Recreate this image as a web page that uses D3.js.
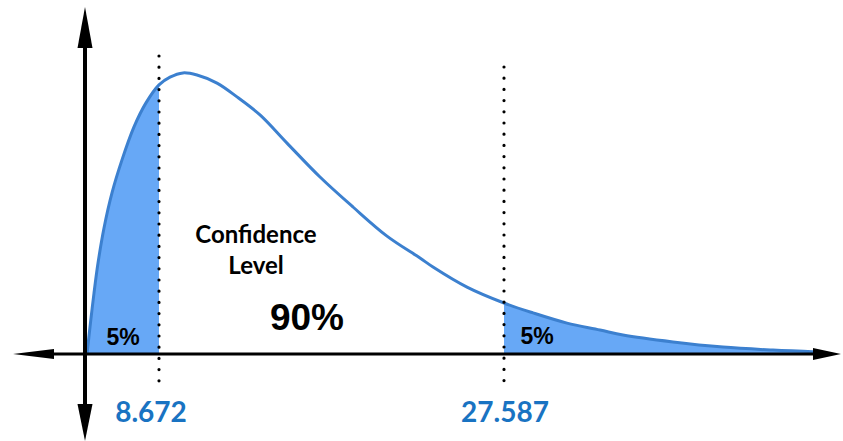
<!DOCTYPE html>
<html>
<head>
<meta charset="utf-8">
<script src="https://cdn.jsdelivr.net/npm/d3@7"></script>
<style>
  html, body { margin: 0; padding: 0; background: #fff; }
  svg { display: block; }
</style>
</head>
<body>
<svg id="chart" width="843" height="441"></svg>
<script>
// ---- data ----
// curve: x in chi-square units, y in relative density units
const curveX = [4.725, 4.889, 5.108, 5.328, 5.657, 6.095, 6.643, 7.301, 7.959, 8.672, 9.275, 9.988, 10.755, 11.852, 12.948, 14.209, 15.69, 17.499, 19.308, 21.172, 22.981, 23.694, 25.558, 27.587, 29.177, 31.041, 32.85, 34.111, 36.852, 39.593, 42.334, 44.747];
const curveY = [0, 0.09, 0.203, 0.303, 0.42, 0.537, 0.647, 0.757, 0.837, 0.897, 0.923, 0.937, 0.93, 0.903, 0.857, 0.797, 0.703, 0.59, 0.49, 0.393, 0.32, 0.29, 0.223, 0.17, 0.137, 0.103, 0.08, 0.063, 0.04, 0.023, 0.013, 0.007];
const criticalValues = [8.672, 27.587];
const criticalLabels = ["8.672", "27.587"];
const tailLabels = ["5%", "5%"];
const centerLabelLines = ["Confidence", "Level"];
const centerValue = "90%";

// ---- layout ----
const svg = d3.select("#chart");
const x = d3.scaleLinear().domain([8.672, 27.587]).range([159, 504]);
const y = d3.scaleLinear().domain([0, 1]).range([354, 54]);
const axisX = 85;

const pts = curveX.map((v, i) => ({ x: v, y: curveY[i] }));
const smooth = d3.curveCatmullRom.alpha(0.5);
const area = d3.area().x(d => x(d.x)).y0(y(0)).y1(d => y(d.y)).curve(smooth);
const line = d3.line().x(d => x(d.x)).y(d => y(d.y)).curve(smooth);

const fillColor = "#67a8f6";
const strokeColor = "#3c80cf";
const labelBlue = "#1973c2";

// shaded tails
svg.append("path").datum(pts.filter(d => d.x <= criticalValues[0] + 1e-9))
  .attr("d", area).attr("fill", fillColor);
svg.append("path").datum(pts.filter(d => d.x >= criticalValues[1] - 1e-9))
  .attr("d", area).attr("fill", fillColor);

// curve
svg.append("path").datum(pts).attr("d", line)
  .attr("fill", "none").attr("stroke", strokeColor).attr("stroke-width", 3);

// axes
const y0 = y(0);
svg.append("line").attr("x1", 40).attr("x2", 820).attr("y1", y0).attr("y2", y0)
  .attr("stroke", "#000").attr("stroke-width", 3);
svg.append("line").attr("x1", axisX).attr("x2", axisX).attr("y1", 40).attr("y2", 412)
  .attr("stroke", "#000").attr("stroke-width", 4);
// arrowheads
const heads = [
  [[13, y0], [54, y0 - 5], [54, y0 + 5]],
  [[841, y0], [813, y0 - 6], [813, y0 + 6]],
  [[axisX, 7], [axisX - 7.5, 48], [axisX + 7.5, 48]],
  [[axisX, 441], [axisX - 7.5, 404], [axisX + 7.5, 404]]
];
svg.selectAll("polygon.head").data(heads).enter().append("polygon")
  .attr("class", "head")
  .attr("points", d => d.map(p => p.join(",")).join(" "))
  .attr("fill", "#000");

// dotted critical lines
const dotTop = [56, 67];
svg.selectAll("line.crit").data(criticalValues).enter().append("line")
  .attr("class", "crit")
  .attr("x1", d => x(d)).attr("x2", d => x(d))
  .attr("y1", (d, i) => dotTop[i]).attr("y2", 382)
  .attr("stroke", "#000").attr("stroke-width", 3.2)
  .attr("stroke-linecap", "round").attr("stroke-dasharray", "0 11.2");

// critical value labels
svg.selectAll("text.crit").data(criticalLabels).enter().append("text")
  .attr("class", "crit")
  .attr("x", (d, i) => x(criticalValues[i]) + (i === 0 ? -8 : 1))
  .attr("y", 422)
  .attr("text-anchor", "middle")
  .attr("font-family", "Lato, 'Open Sans', sans-serif")
  .attr("font-weight", 700).attr("font-size", 28)
  .attr("fill", labelBlue)
  .text(d => d);

// tail labels
const tailPos = [[123, 345], [537, 344]];
svg.selectAll("text.tail").data(tailLabels).enter().append("text")
  .attr("class", "tail")
  .attr("x", (d, i) => tailPos[i][0]).attr("y", (d, i) => tailPos[i][1])
  .attr("text-anchor", "middle")
  .attr("font-family", "'Liberation Sans', Arial, sans-serif")
  .attr("font-weight", 700).attr("font-size", 23)
  .attr("fill", "#000")
  .text(d => d);

// center labels
svg.selectAll("text.center").data(centerLabelLines).enter().append("text")
  .attr("class", "center")
  .attr("x", 256).attr("y", (d, i) => 243 + i * 31)
  .attr("text-anchor", "middle")
  .attr("font-family", "Lato, 'Open Sans', sans-serif")
  .attr("font-weight", 700).attr("font-size", 24)
  .attr("fill", "#000")
  .text(d => d);

svg.append("text")
  .attr("x", 307).attr("y", 330)
  .attr("text-anchor", "middle")
  .attr("font-family", "'Liberation Sans', Arial, sans-serif")
  .attr("font-weight", 700).attr("font-size", 37)
  .attr("fill", "#000")
  .text(centerValue);
</script>
</body>
</html>
